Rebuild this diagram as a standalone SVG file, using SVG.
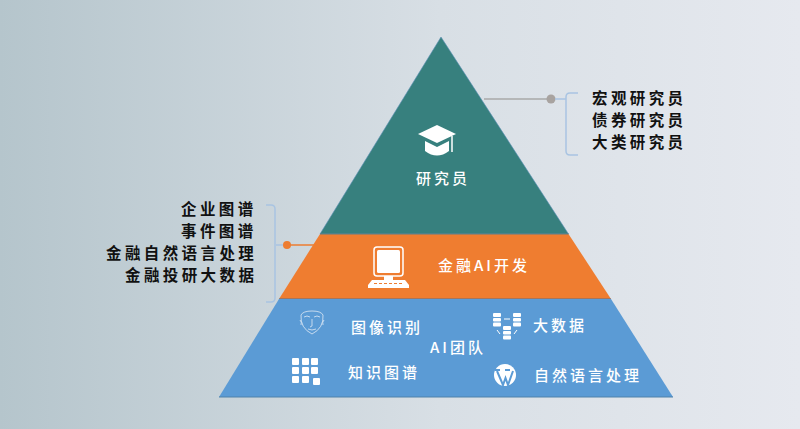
<svg xmlns="http://www.w3.org/2000/svg" width="800" height="429" viewBox="0 0 800 429">
<style>
text{font-family:"Noto Sans CJK SC","Liberation Serif",sans-serif;font-size:16px;font-weight:500;letter-spacing:3px}
.d{fill:#111;font-weight:700;font-size:15.500px;letter-spacing:3.400px}
.w{fill:#fff;font-size:15px}
.b{fill:none;stroke:#a9c4e2;stroke-width:1.500}
.ic{fill:#fff}
</style>
<defs><linearGradient id="bg" x1="0" x2="1" y1="0" y2="0"><stop offset="0" stop-color="#b5c5cc"/><stop offset=".55" stop-color="#d8dfe5"/><stop offset="1" stop-color="#e6e9ef"/></linearGradient></defs>
<rect width="800" height="429" fill="url(#bg)"/>
<g id="connectors">
<path d="M484 99H551" stroke="#a8a8a8" stroke-width="1.500" fill="none"/>
<circle cx="551" cy="99" r="4.500" fill="#a8a3a0"/>
<path class="b" d="M555 99H566M578 93H570Q566 93 566 97V151Q566 155 570 155H578"/>
<path d="M287 245H316" stroke="#ed7d31" stroke-width="1.500" fill="none"/>
<circle cx="287" cy="245" r="4" fill="#ed7d31"/>
<path class="b" d="M283 245H276M266 205H271Q275 205 275 209V298Q275 302 271 302H266"/>
</g>
<g id="node-researcher">
<path d="M441 37L568.500 234H320Z" fill="#37807e" stroke="#5b8fb5" stroke-width=".6"/>
<path d="M418 134L437 125L456 134L437 143Z" class="ic"/>
<path d="M425 141V151Q437 160 449 151V141L437 147Z" class="ic"/>
<path d="M452 136V152" stroke="#fff" stroke-width="1.500"/>
<text class="w" x="416" y="184">研究员</text>
</g>
<g id="node-fin-ai">
<path d="M320 234H568.500L611 299H279Z" fill="#ef7d30"/>
<path d="M320 234H568.500" stroke="#5f7f86" stroke-width="1"/>
<path d="M279 299H611" stroke="#5f6f85" stroke-width="1.200"/>
<rect x="374" y="247" width="29" height="29" rx="3" fill="none" stroke="#fff" stroke-width="1.500"/>
<rect x="377" y="250" width="23" height="23" rx="1.500" fill="#fff"/>
<rect x="384" y="276" width="9" height="4" fill="#fff"/>
<path d="M372 280H405L409 285V288H368V285Z" class="ic"/>
<path d="M374 283.500H403" stroke="#ef7d30" stroke-width="1.200" stroke-dasharray="3 2"/>
<text class="w" x="438" y="271">金融AI开发</text>
</g>
<g id="node-ai-team">
<path d="M279 299H611L673 397H219Z" fill="#5b9bd5"/>
<path d="M219 397H673" stroke="#4f81aa" stroke-width="1"/>
<g fill="none" stroke="#dfeaf5" stroke-width=".8"><path d="M301 315Q303 311 312 311Q321 311 323 315Q324 328 312 334Q300 328 301 315Z"/><path d="M304 317Q307 315 310 317M314 317Q317 315 320 317M312 319V326L310 327M308 329Q312 331 316 329M300 320Q302 322 301 325M324 320Q322 322 323 325"/></g>
<g class="ic"><rect x="292" y="358" width="7" height="7" rx="1"/><rect x="302" y="358" width="7" height="7" rx="1"/><rect x="311" y="358" width="7" height="7" rx="1"/><rect x="292" y="367" width="7" height="7" rx="1"/><rect x="302" y="367" width="7" height="7" rx="1"/><rect x="311" y="367" width="7" height="7" rx="1"/><rect x="292" y="376" width="7" height="7" rx="1"/><rect x="302" y="376" width="7" height="7" rx="1"/><rect x="313" y="378" width="7" height="7" rx="1"/></g>
<g class="ic"><rect x="493" y="313" width="8" height="4" rx="1"/><rect x="493" y="318" width="8" height="3.500" rx="1"/><rect x="493" y="322.500" width="8" height="4" rx="1"/><rect x="513" y="313" width="8" height="4" rx="1"/><rect x="513" y="318" width="8" height="3.500" rx="1"/><rect x="513" y="322.500" width="8" height="4" rx="1"/><rect x="503" y="326" width="8" height="4" rx="1"/><rect x="503" y="331" width="8" height="3.500" rx="1"/><rect x="503" y="335.500" width="8" height="4" rx="1"/><path d="M504 319H510M497 330L500 334M517 330L514 334" stroke="#fff" stroke-width="1"/></g>
<circle cx="505" cy="375" r="11" class="ic"/>
<path d="M497 371L503 385L505.500 378L508 385L513 371M495 370H500M505 370H510" fill="none" stroke="#5b9bd5" stroke-width="2"/>
<text class="w" x="351" y="333">图像识别</text>
<text class="w" x="533" y="331">大数据</text>
<text class="w" x="430" y="353">AI团队</text>
<text class="w" x="348" y="378">知识图谱</text>
<text class="w" x="534" y="381">自然语言处理</text>
</g>
<g id="label-left">
<text class="d" x="181" y="215">企业图谱</text>
<text class="d" x="181" y="237">事件图谱</text>
<text class="d" x="106" y="259">金融自然语言处理</text>
<text class="d" x="125" y="281">金融投研大数据</text>
</g>
<g id="label-right">
<text class="d" x="592" y="104">宏观研究员</text>
<text class="d" x="592" y="126">债券研究员</text>
<text class="d" x="592" y="148">大类研究员</text>
</g>
</svg>
